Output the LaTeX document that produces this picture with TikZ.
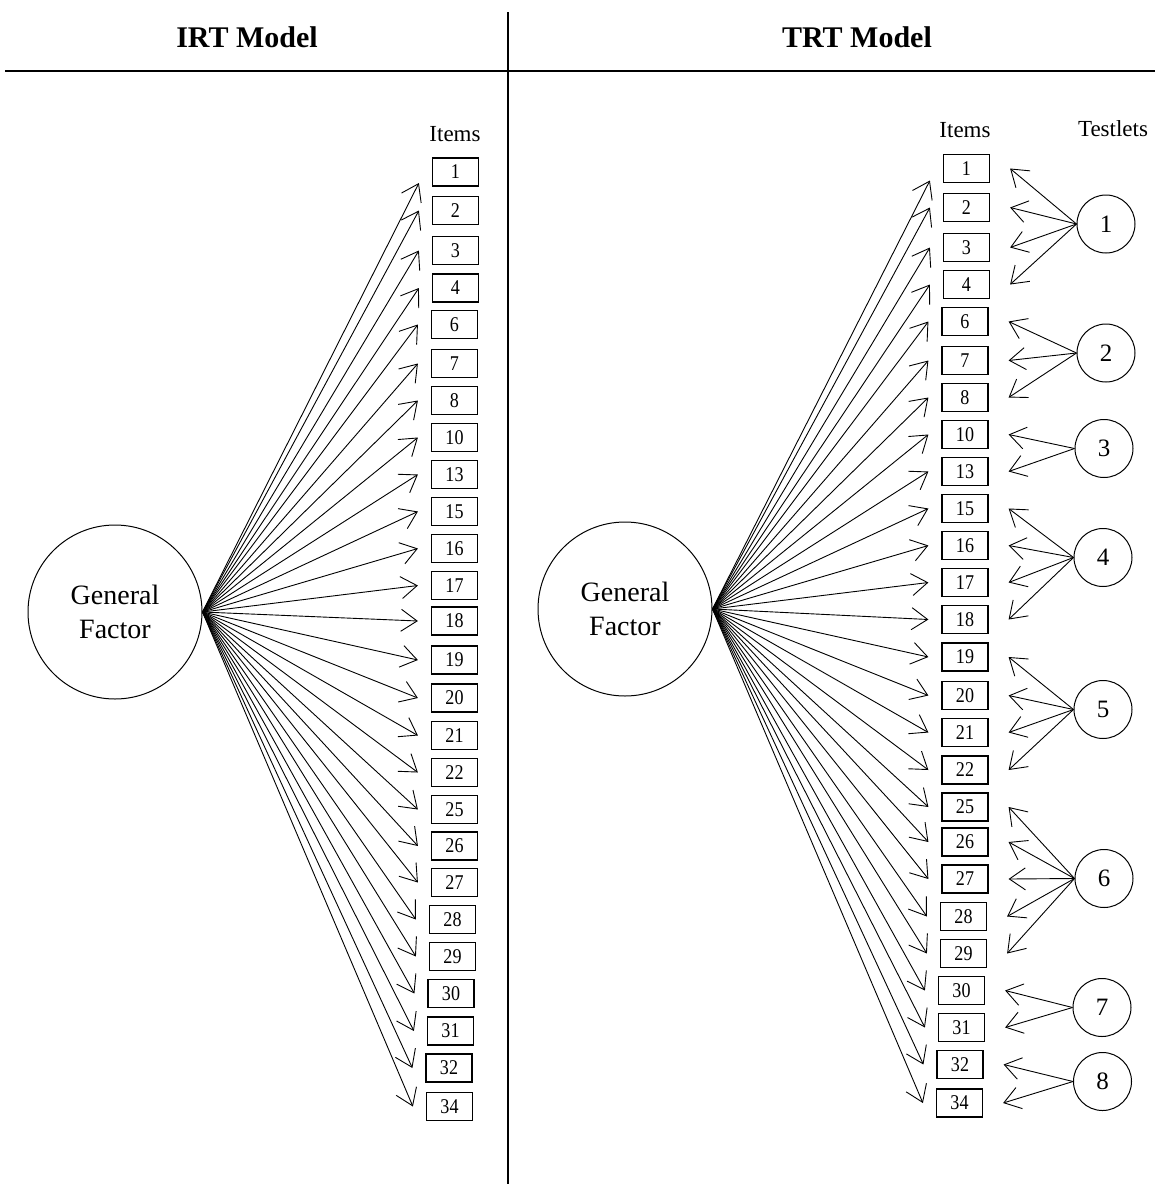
\documentclass[tikz,border=0pt]{standalone}
\usepackage{fontspec}
\setmainfont{Liberation Serif}
\newfontfamily\itemfont[FakeStretch=0.86]{Liberation Serif}
\usetikzlibrary{arrows.meta}

\begin{document}
\begin{tikzpicture}[x=1pt,y=-1pt,
  itembox/.style={draw, line width=1.2pt, minimum width=46pt, minimum height=28pt,
    inner sep=0pt, font=\itemfont\fontsize{21}{21}\selectfont},
  factor/.style={draw, circle, line width=1pt, minimum size=174pt, inner sep=0pt,
    align=center, font=\fontsize{28}{34}\selectfont},
  testlet/.style={draw, circle, line width=1pt, minimum size=58pt, inner sep=0pt,
    font=\fontsize{25}{25}\selectfont},
  load/.style={line width=0.9pt, -{Straight Barb[length=16pt,width=22pt]}},
  colhead/.style={font=\bfseries\fontsize{30}{30}\selectfont, anchor=base},
  collabel/.style={font=\fontsize{23}{23}\selectfont, anchor=base},
]
\useasboundingbox (0,0) rectangle (1155,1184);

% table frame
\coordinate (ruleL) at (5,71);
\coordinate (ruleR) at (1155,71);
\coordinate (sepT) at (508,12);
\coordinate (sepB) at (508,1184);
\draw[line width=2.5pt] (ruleL) -- (ruleR);
\draw[line width=1.4pt] (sepT) -- (sepB);

\node[colhead] (hIRT) at (247,47) {IRT Model};
\node[colhead] (hTRT) at (857,47) {TRT Model};

% ---------- IRT model ----------
\node[factor] (gfL) at (115,612) {General\\Factor};
\node[collabel] (itemsL) at (455,141) {Items};
\foreach \lab/\x/\y in {1/455.5/172, 2/455.5/210.5, 3/455.5/250.5, 4/455.5/288,
    6/454.5/324.5, 7/454.5/363.5, 8/454.5/400.5, 10/454.5/437.5, 13/454.5/474.5,
    15/454.5/511.5, 16/454.5/548.5, 17/454.5/585.5, 18/454.5/621, 19/454.5/660,
    20/454.5/698, 21/454.5/735.5, 22/454.5/772.5, 25/454.5/809.5, 26/454.5/846,
    27/454.5/882.5, 28/452.5/919.5, 29/452.5/956.5, 30/451/993.5, 31/450.5/1031,
    32/449/1068, 34/449.5/1106.5}
  \node[itembox] (L\lab) at (\x,\y) {\lab};

\draw[load] (gfL.east) -- ([xshift=-13pt,yshift=-11pt]L1.west);
\foreach \lab in {2,3,4,6,7,8,10,13,15,16,17,18,19,20,21,22,25,26,27,28,29,30,31,32,34}
  \draw[load] (gfL.east) -- ([xshift=-13pt]L\lab.west);

% ---------- TRT model ----------
\node[factor] (gfR) at (625,609) {General\\Factor};
\node[collabel] (itemsR) at (965,137) {Items};
\node[collabel] (testletsR) at (1113,136) {Testlets};
\foreach \lab/\x/\y in {1/966.5/168.5, 2/966.5/207.5, 3/966.5/247.5, 4/966.5/284.5,
    6/965/321.5, 7/965/360.5, 8/965/397.5, 10/965/434.5, 13/965/471.5,
    15/965/508.5, 16/965/545.5, 17/965/582.5, 18/965/619.5, 19/965/657,
    20/965/695.5, 21/965/732.5, 22/965/770, 25/965/807, 26/965/842,
    27/965/879, 28/963.5/916.5, 29/963.5/953.5, 30/961.5/990.5, 31/961.5/1027.5,
    32/960/1064.5, 34/959.5/1103}
  \node[itembox] (R\lab) at (\x,\y) {\lab};

\draw[load] (gfR.east) -- ([xshift=-13pt,yshift=-12pt]R1.west);
\foreach \lab in {2,3,4,6,7,8,10,13,15,16,17,18,19,20,21,22,25,26,27,28,29,30,31,32,34}
  \draw[load] (gfR.east) -- ([xshift=-13pt]R\lab.west);

% testlet factors
\foreach \t/\x/\y in {1/1106/224, 2/1106/353, 3/1104/448.5, 4/1103/557.5,
    5/1103/709.5, 6/1104/878.5, 7/1102/1007.5, 8/1102.5/1081.5}
  \node[testlet] (T\t) at (\x,\y) {\t};

\foreach \t/\items in {1/{1,2,3,4}, 2/{6,7,8}, 3/{10,13}, 4/{15,16,17,18},
    5/{19,20,21,22}, 6/{25,26,27,28,29}, 7/{30,31}, 8/{32,34}}
  \foreach \i in \items
    \draw[load] (T\t.west) -- ([xshift=20pt]R\i.east);

\end{tikzpicture}
\end{document}
